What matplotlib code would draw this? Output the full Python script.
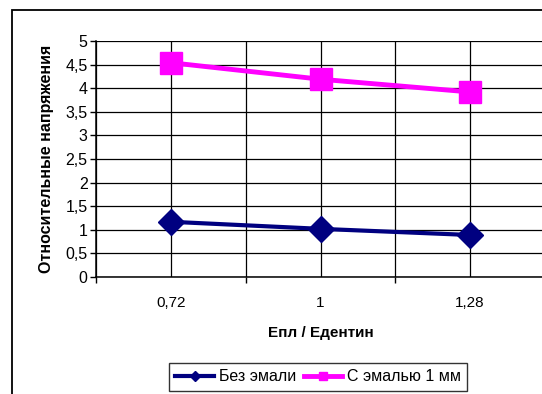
import matplotlib.pyplot as plt
from matplotlib.patches import Rectangle

plt.rcParams['font.family'] = ['Liberation Sans', 'DejaVu Sans']

categories = ['0,72', '1', '1,28']
no_enamel = [1.17, 1.02, 0.89]
enamel_1mm = [4.54, 4.19, 3.92]
y_ticks = [0, 0.5, 1, 1.5, 2, 2.5, 3, 3.5, 4, 4.5, 5]
y_labels = ['0', '0,5', '1', '1,5', '2', '2,5', '3', '3,5', '4', '4,5', '5']

W, H = 542, 394
fig = plt.figure(figsize=(W / 100, H / 100), dpi=100)

# chart frame (runs off the right and bottom edges)
fig.patches.append(Rectangle((12 / W, -0.1), 1.1, 1 - 10 / H + 0.1,
                             transform=fig.transFigure, fill=False,
                             edgecolor='black', linewidth=1.3, clip_on=False))

ax = fig.add_axes([96 / W, (H - 277) / H, (545 - 96) / W, (277 - 41) / H])
x = list(range(len(categories)))

ax.plot(x, no_enamel, color='#000080', linewidth=3, marker='D',
        markersize=13.5, label='Без эмали', zorder=3)
ax.plot(x, enamel_1mm, color='#FF00FF', linewidth=3.5, marker='s',
        markersize=15.5, label='С эмалью 1 мм', zorder=3)

ax.set_xlim(-0.5, 2.5)
ax.set_ylim(0, 5)
ax.set_yticks(y_ticks)
ax.set_yticklabels(y_labels, fontsize=11.5)
ax.set_xticks(x)
ax.set_xticklabels(categories, fontsize=11)
ax.set_xticks([-0.5, 0.5, 1.5, 2.5], minor=True)
ax.tick_params(axis='x', which='major', length=0, pad=14)
ax.tick_params(axis='x', which='minor', length=4, direction='out', width=1)
ax.tick_params(axis='y', length=4, direction='out', width=1, pad=2)

ax.grid(True, which='both', axis='x', color='black', linewidth=0.9)
ax.grid(True, which='major', axis='y', color='black', linewidth=0.9)
ax.set_axisbelow(True)

for side in ['top', 'right']:
    ax.spines[side].set_visible(False)
for side in ['left', 'bottom']:
    ax.spines[side].set_linewidth(1.1)

ax.set_ylabel('Относительные напряжения', fontsize=11.5, fontweight='bold', labelpad=8)
ax.set_xlabel('Епл / Едентин', fontsize=11, fontweight='bold', labelpad=11)

leg = fig.legend(loc='upper left', bbox_to_anchor=(169 / W, 1 - 363 / H),
                 ncol=2, fontsize=11.5, frameon=True, fancybox=False,
                 edgecolor='black', handlelength=2.4, columnspacing=0.5,
                 handletextpad=0.3, borderpad=0.4, borderaxespad=0,
                 markerscale=0.35)
leg.get_frame().set_linewidth(1)

fig.savefig('out.png', dpi=100)
